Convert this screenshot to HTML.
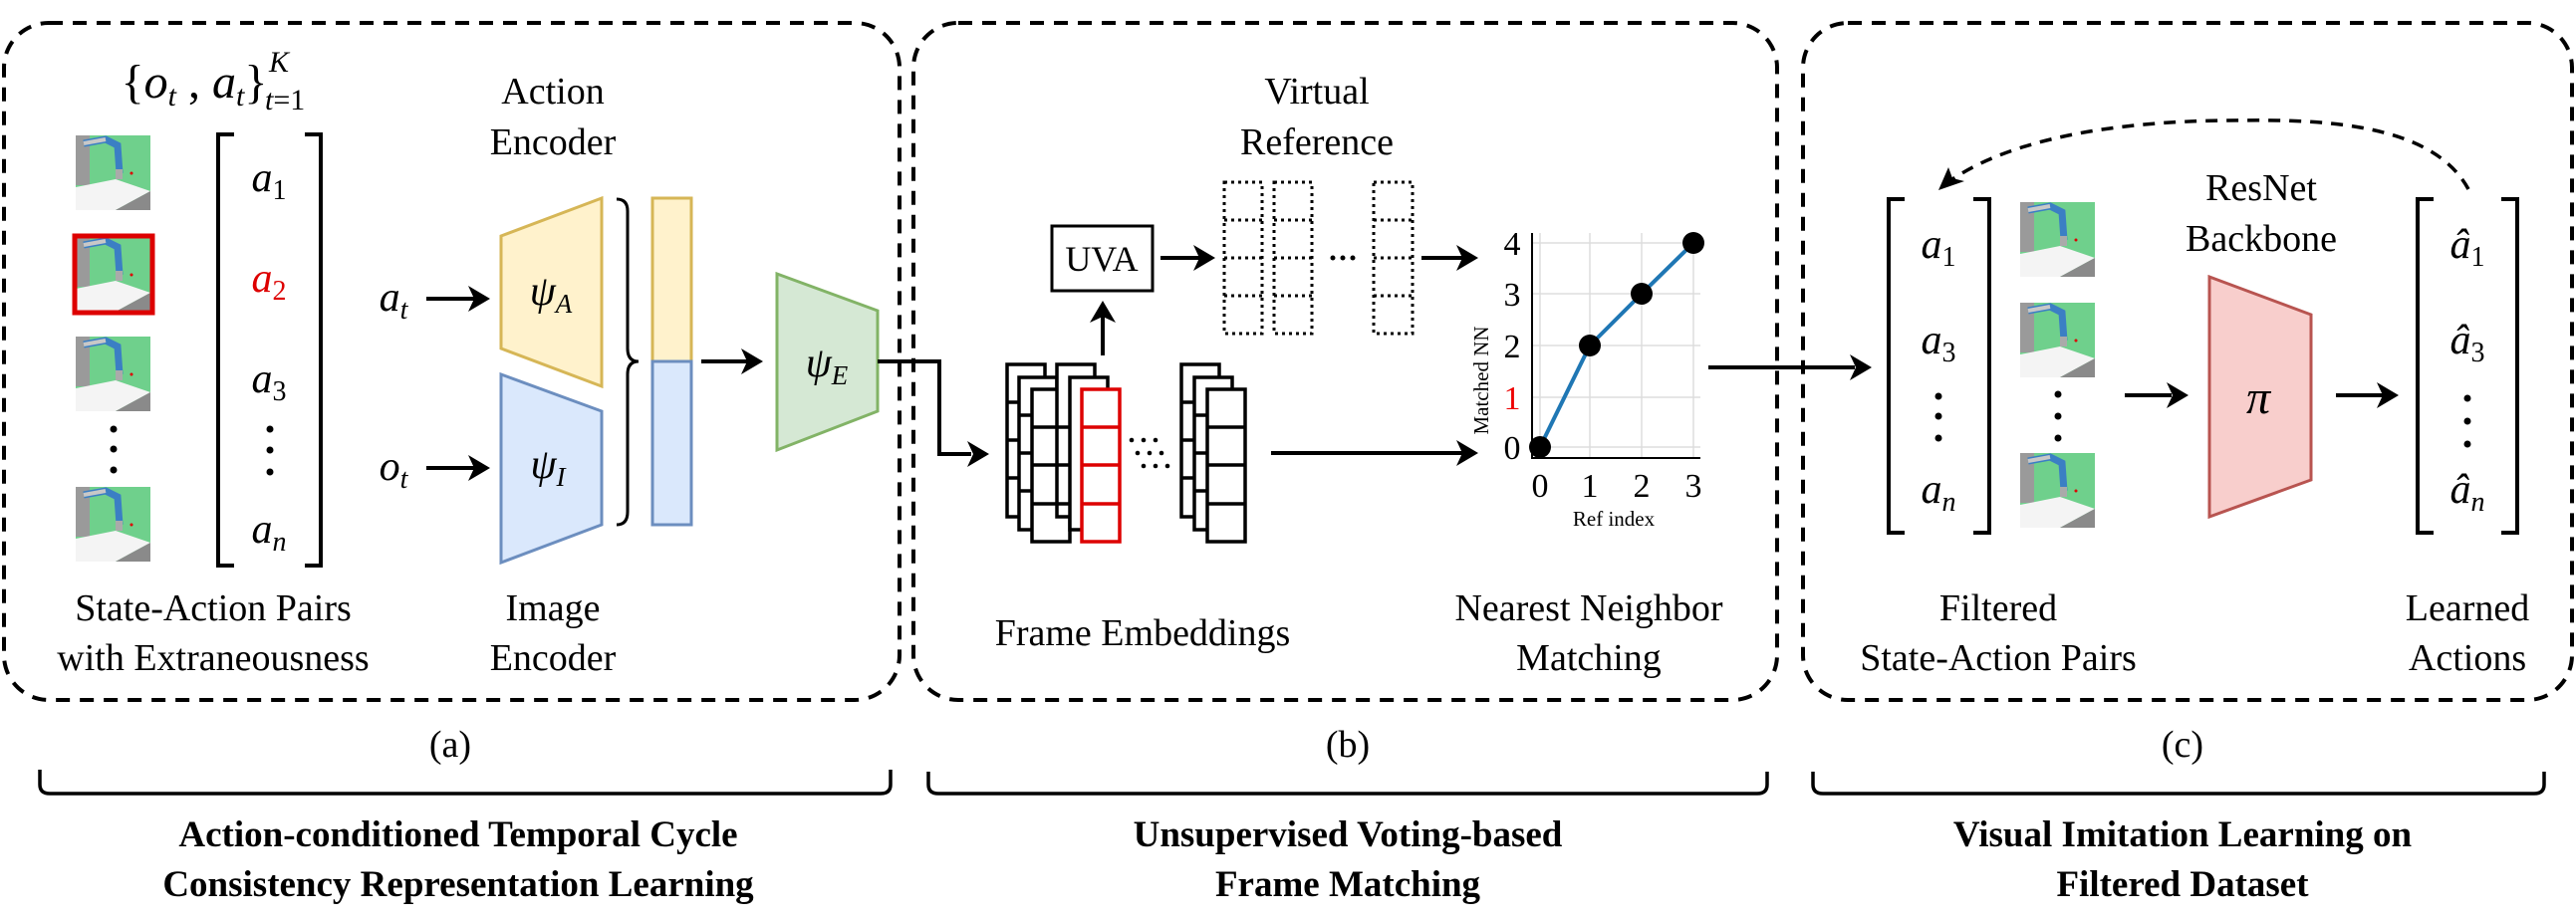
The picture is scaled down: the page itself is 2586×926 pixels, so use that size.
<!DOCTYPE html>
<html><head><meta charset="utf-8"><style>
html,body{margin:0;padding:0;background:#fff;}
svg{display:block;font-family:"Liberation Serif",serif;}
svg text{font-family:"Liberation Serif",serif !important;fill:#000;}
.l{font-size:38px;text-anchor:middle;}
.m{font-style:italic;font-size:42px;text-anchor:middle;}
.b{font-weight:bold;font-size:37px;text-anchor:middle;}
</style></head><body>
<svg width="2586" height="926" viewBox="0 0 2586 926" xmlns="http://www.w3.org/2000/svg" font-family="Liberation Serif, serif">
<defs>
<g id="robot">
<rect x="0" y="0" width="75" height="75" fill="#6fd08c"/>
<rect x="0" y="0" width="14" height="50" fill="#9a9a9a"/>
<path d="M8 8 L30 4 L42 10 L44 38" stroke="#3b7fc4" stroke-width="7" fill="none"/>
<path d="M8 8 L30 4" stroke="#c8c8c8" stroke-width="4" fill="none"/>
<rect x="40" y="34" width="7" height="10" fill="#aaa"/>
<polygon points="0,52 40,44 75,56 40,75 0,75" fill="#f4f4f4"/>
<polygon points="40,75 75,56 75,75" fill="#8a8a8a"/>
<circle cx="56" cy="38" r="1.5" fill="#d00"/>
</g>
</defs>

<g fill="none" stroke="#000" stroke-width="4" stroke-dasharray="14 10">
<rect x="4" y="23" width="899" height="680" rx="45"/>
<rect x="917" y="23" width="867" height="680" rx="45"/>
<rect x="1810" y="23" width="772" height="680" rx="45"/>
</g>

<!-- ===== Panel A ===== -->
<text x="195" y="98" font-family="Liberation Serif, serif" style="font-size:48px;text-anchor:middle"><tspan>{</tspan><tspan font-style="italic">o</tspan><tspan font-style="italic" font-size="30" dy="8">t</tspan><tspan dy="-8"> , </tspan><tspan font-style="italic">a</tspan><tspan font-style="italic" font-size="30" dy="8">t</tspan><tspan dy="-8">}</tspan></text>
<text x="270" y="72" font-family="Liberation Serif, serif" style="font-style:italic;font-size:30px">K</text>
<text x="266" y="110" font-family="Liberation Serif, serif" style="font-size:30px"><tspan font-style="italic">t</tspan>=1</text>

<use href="#robot" x="76" y="136"/>
<use href="#robot" x="76" y="238"/>
<rect x="75" y="237" width="78" height="77" fill="none" stroke="#d00" stroke-width="5"/>
<use href="#robot" x="76" y="338"/>
<use href="#robot" x="76" y="489"/>
<g fill="#000"><circle cx="114" cy="431" r="3.5"/><circle cx="114" cy="451" r="3.5"/><circle cx="114" cy="472" r="3.5"/></g>

<g fill="none" stroke="#000" stroke-width="4">
<path d="M235 135 H219 V568 H235"/>
<path d="M306 135 H322 V568 H306"/>
</g>
<text class="m" x="270" y="192">a<tspan font-size="28" dy="8" font-style="normal">1</tspan></text>
<text class="m" x="270" y="293" style="fill:#d00">a<tspan font-size="28" dy="8" font-style="normal">2</tspan></text>
<text class="m" x="270" y="394">a<tspan font-size="28" dy="8" font-style="normal">3</tspan></text>
<g fill="#000"><circle cx="271" cy="431" r="3.5"/><circle cx="271" cy="452" r="3.5"/><circle cx="271" cy="474" r="3.5"/></g>
<text class="m" x="270" y="545">a<tspan font-size="28" dy="8">n</tspan></text>

<text class="l" x="555" y="104">Action</text>
<text class="l" x="555" y="155">Encoder</text>
<text class="l" x="555" y="623">Image</text>
<text class="l" x="555" y="673">Encoder</text>
<text class="l" x="214" y="623">State-Action Pairs</text>
<text class="l" x="214" y="673">with Extraneousness</text>

<text class="m" x="395" y="312">a<tspan font-size="28" dy="8">t</tspan></text>
<text class="m" x="395" y="482">o<tspan font-size="28" dy="8">t</tspan></text>

<polygon points="503,237 604,199 604,388 503,350" fill="#fff2cc" stroke="#d6b656" stroke-width="3"/>
<polygon points="503,376 604,413 604,527 503,565" fill="#dae8fc" stroke="#6c8ebf" stroke-width="3"/>
<text class="m" x="553" y="306">ψ<tspan font-size="27" dy="8">A</tspan></text>
<text class="m" x="550" y="480">ψ<tspan font-size="27" dy="8">I</tspan></text>
<path d="M619 200 Q630 200 630 212 V350 Q630 363 641 363 Q630 363 630 376 V514 Q630 527 619 527" fill="none" stroke="#000" stroke-width="3"/>
<rect x="655" y="199" width="39" height="164" fill="#fff2cc" stroke="#d6b656" stroke-width="3"/>
<rect x="655" y="363" width="39" height="164" fill="#dae8fc" stroke="#6c8ebf" stroke-width="3"/>
<polygon points="780,275 881,312 881,413 780,452" fill="#d5e8d4" stroke="#82b366" stroke-width="3"/>
<text class="m" x="830" y="378">ψ<tspan font-size="27" dy="8">E</tspan></text>

<g stroke="#000" stroke-width="4" fill="none">
<line x1="428" y1="300" x2="480" y2="300"/>
<line x1="428" y1="470" x2="480" y2="470"/>
<line x1="704" y1="363" x2="752" y2="363"/>
<polyline points="881,363 943,363 943,456 975,456"/>
<line x1="1107" y1="357" x2="1107" y2="318"/>
<line x1="1165" y1="259" x2="1205" y2="259"/>
<line x1="1427" y1="259" x2="1468" y2="259"/>
<line x1="1276" y1="455" x2="1468" y2="455"/>
<line x1="1715" y1="369" x2="1862" y2="369"/>
<line x1="2133" y1="397" x2="2180" y2="397"/>
<line x1="2345" y1="397" x2="2392" y2="397"/>
</g>
<g fill="#000">
<polygon points="492,300 470,287 476,300 470,313"/>
<polygon points="492,470 470,457 476,470 470,483"/>
<polygon points="766,363 744,350 750,363 744,376"/>
<polygon points="993,456 971,443 977,456 971,469"/>
<polygon points="1107,302 1094,324 1107,318 1120,324"/>
<polygon points="1220,259 1198,246 1204,259 1198,272"/>
<polygon points="1484,259 1462,246 1468,259 1462,272"/>
<polygon points="1484,455 1462,442 1468,455 1462,468"/>
<polygon points="1879,369 1857,356 1863,369 1857,382"/>
<polygon points="2197,397 2175,384 2181,397 2175,410"/>
<polygon points="2408,397 2386,384 2392,397 2386,410"/>
</g>

<!-- ===== Panel B ===== -->
<text class="l" x="1322" y="104">Virtual</text>
<text class="l" x="1322" y="155">Reference</text>
<rect x="1056" y="227" width="101" height="65" fill="#fff" stroke="#000" stroke-width="3"/>
<text x="1106" y="272" font-family="Liberation Serif, serif" style="font-size:36px;text-anchor:middle">UVA</text>

<g fill="none" stroke="#000" stroke-width="3" stroke-dasharray="3 4">
<rect x="1229" y="183" width="38" height="152"/>
<line x1="1229" y1="221" x2="1267" y2="221"/><line x1="1229" y1="259" x2="1267" y2="259"/><line x1="1229" y1="297" x2="1267" y2="297"/>
<rect x="1279" y="183" width="38" height="152"/>
<line x1="1279" y1="221" x2="1317" y2="221"/><line x1="1279" y1="259" x2="1317" y2="259"/><line x1="1279" y1="297" x2="1317" y2="297"/>
<rect x="1379" y="183" width="39" height="152"/>
<line x1="1379" y1="221" x2="1418" y2="221"/><line x1="1379" y1="259" x2="1418" y2="259"/><line x1="1379" y1="297" x2="1418" y2="297"/>
</g>
<g fill="#000"><circle cx="1338" cy="259" r="2.5"/><circle cx="1348" cy="259" r="2.5"/><circle cx="1358" cy="259" r="2.5"/></g>

<g stroke="#000" stroke-width="3.5" fill="#fff">
<rect x="1011" y="366" width="38" height="153"/>
<rect x="1023" y="379" width="38" height="153"/>
<rect x="1036" y="391" width="38" height="153"/>
<rect x="1061" y="366" width="38" height="153"/>
<rect x="1074" y="379" width="38" height="153"/>
<rect x="1186" y="366" width="38" height="153"/>
<rect x="1199" y="379" width="38" height="153"/>
<rect x="1212" y="391" width="38" height="153"/>
</g>
<g stroke="#000" stroke-width="3.5">
<line x1="1011" y1="404" x2="1023" y2="404"/><line x1="1011" y1="442" x2="1023" y2="442"/><line x1="1011" y1="480" x2="1023" y2="480"/>
<line x1="1023" y1="417" x2="1036" y2="417"/><line x1="1023" y1="455" x2="1036" y2="455"/><line x1="1023" y1="493" x2="1036" y2="493"/>
<line x1="1036" y1="429" x2="1074" y2="429"/><line x1="1036" y1="467" x2="1074" y2="467"/><line x1="1036" y1="506" x2="1074" y2="506"/>
<line x1="1186" y1="404" x2="1199" y2="404"/><line x1="1186" y1="442" x2="1199" y2="442"/><line x1="1186" y1="480" x2="1199" y2="480"/>
<line x1="1199" y1="417" x2="1212" y2="417"/><line x1="1199" y1="455" x2="1212" y2="455"/><line x1="1199" y1="493" x2="1212" y2="493"/>
<line x1="1212" y1="429" x2="1250" y2="429"/><line x1="1212" y1="467" x2="1250" y2="467"/><line x1="1212" y1="506" x2="1250" y2="506"/>
</g>
<rect x="1086" y="391" width="38" height="153" fill="#fff" stroke="#d00" stroke-width="3.5"/>
<g stroke="#d00" stroke-width="3.5">
<line x1="1086" y1="429" x2="1124" y2="429"/><line x1="1086" y1="467" x2="1124" y2="467"/><line x1="1086" y1="506" x2="1124" y2="506"/>
</g>
<g fill="#000">
<circle cx="1136" cy="442" r="2.3"/><circle cx="1148" cy="442" r="2.3"/><circle cx="1160" cy="442" r="2.3"/>
<circle cx="1142" cy="455" r="2.3"/><circle cx="1154" cy="455" r="2.3"/><circle cx="1166" cy="455" r="2.3"/>
<circle cx="1148" cy="468" r="2.3"/><circle cx="1160" cy="468" r="2.3"/><circle cx="1172" cy="468" r="2.3"/>
</g>

<g stroke="#ddd" stroke-width="1.5">
<line x1="1538" y1="244" x2="1707" y2="244"/><line x1="1538" y1="295" x2="1707" y2="295"/>
<line x1="1538" y1="347" x2="1707" y2="347"/><line x1="1538" y1="399" x2="1707" y2="399"/>
<line x1="1538" y1="449" x2="1707" y2="449"/>
<line x1="1546" y1="234" x2="1546" y2="460"/><line x1="1596" y1="234" x2="1596" y2="460"/>
<line x1="1648" y1="234" x2="1648" y2="460"/><line x1="1700" y1="234" x2="1700" y2="460"/>
</g>
<polyline points="1538,234 1538,460 1707,460" fill="none" stroke="#000" stroke-width="2"/>
<polyline points="1546,449 1596,347 1648,295 1700,244" fill="none" stroke="#1f77b4" stroke-width="4"/>
<g fill="#000"><circle cx="1546" cy="449" r="11"/><circle cx="1596" cy="347" r="11"/><circle cx="1648" cy="295" r="11"/><circle cx="1700" cy="244" r="11"/></g>
<g font-family="Liberation Serif, serif" style="font-size:34px;text-anchor:middle">
<text x="1518" y="461">0</text><text x="1518" y="411" style="fill:#e00">1</text><text x="1518" y="359">2</text><text x="1518" y="307">3</text><text x="1518" y="256">4</text>
<text x="1546" y="499">0</text><text x="1596" y="499">1</text><text x="1648" y="499">2</text><text x="1700" y="499">3</text>
</g>
<text x="1620" y="528" font-family="Liberation Serif, serif" style="font-size:21px;text-anchor:middle">Ref index</text>
<text x="0" y="0" font-family="Liberation Serif, serif" transform="translate(1494,382) rotate(-90)" style="font-size:21px;text-anchor:middle">Matched NN</text>

<text class="l" x="1147" y="648">Frame Embeddings</text>
<text class="l" x="1595" y="623">Nearest Neighbor</text>
<text class="l" x="1595" y="673">Matching</text>

<!-- ===== Panel C ===== -->
<g fill="none" stroke="#000" stroke-width="4">
<path d="M1912 200 H1896 V535 H1912"/>
<path d="M1981 200 H1997 V535 H1981"/>
<path d="M2443 200 H2427 V535 H2443"/>
<path d="M2511 200 H2527 V535 H2511"/>
</g>
<text class="m" x="1946" y="259">a<tspan font-size="28" dy="8" font-style="normal">1</tspan></text>
<text class="m" x="1946" y="355">a<tspan font-size="28" dy="8" font-style="normal">3</tspan></text>
<g fill="#000"><circle cx="1946" cy="398" r="3.5"/><circle cx="1946" cy="418" r="3.5"/><circle cx="1946" cy="440" r="3.5"/></g>
<text class="m" x="1946" y="505">a<tspan font-size="28" dy="8">n</tspan></text>

<use href="#robot" x="2028" y="203"/>
<use href="#robot" x="2028" y="304"/>
<use href="#robot" x="2028" y="455"/>
<g fill="#000"><circle cx="2066" cy="396" r="3.5"/><circle cx="2066" cy="418" r="3.5"/><circle cx="2066" cy="440" r="3.5"/></g>

<polygon points="2218,278 2320,316 2320,482 2218,519" fill="#f8cecc" stroke="#b85450" stroke-width="3"/>
<text x="2267" y="415" font-family="Liberation Serif, serif" style="font-style:italic;font-size:48px;text-anchor:middle">π</text>
<text class="l" x="2270" y="201">ResNet</text>
<text class="l" x="2270" y="252">Backbone</text>

<text class="m" x="2477" y="259">â<tspan font-size="28" dy="8" font-style="normal">1</tspan></text>
<text class="m" x="2477" y="355">â<tspan font-size="28" dy="8" font-style="normal">3</tspan></text>
<g fill="#000"><circle cx="2477" cy="400" r="3.5"/><circle cx="2477" cy="423" r="3.5"/><circle cx="2477" cy="446" r="3.5"/></g>
<text class="m" x="2477" y="505">â<tspan font-size="28" dy="8">n</tspan></text>

<path d="M2478 190 C2440 120 2320 120 2236 121 C2120 122 2020 140 1960 180" fill="none" stroke="#000" stroke-width="3.5" stroke-dasharray="12 9"/>
<polygon points="1946,191 1956,168 1960,179 1972,182" fill="#000"/>

<text class="l" x="2006" y="623">Filtered</text>
<text class="l" x="2006" y="673">State-Action Pairs</text>
<text class="l" x="2477" y="623">Learned</text>
<text class="l" x="2477" y="673">Actions</text>

<!-- ===== Bottom ===== -->
<text class="l" x="452" y="760">(a)</text>
<text class="l" x="1353" y="760">(b)</text>
<text class="l" x="2191" y="760">(c)</text>
<g fill="none" stroke="#000" stroke-width="3.5">
<path d="M40 773 V788 Q40 797 50 797 H884 Q894 797 894 788 V773"/>
<path d="M932 775 V788 Q932 797 942 797 H1764 Q1774 797 1774 788 V775"/>
<path d="M1820 775 V788 Q1820 797 1830 797 H2544 Q2554 797 2554 788 V775"/>
</g>
<text class="b" x="460" y="850">Action-conditioned Temporal Cycle</text>
<text class="b" x="460" y="900">Consistency Representation Learning</text>
<text class="b" x="1353" y="850">Unsupervised Voting-based</text>
<text class="b" x="1353" y="900">Frame Matching</text>
<text class="b" x="2191" y="850">Visual Imitation Learning on</text>
<text class="b" x="2191" y="900">Filtered Dataset</text>
</svg>
</body></html>
